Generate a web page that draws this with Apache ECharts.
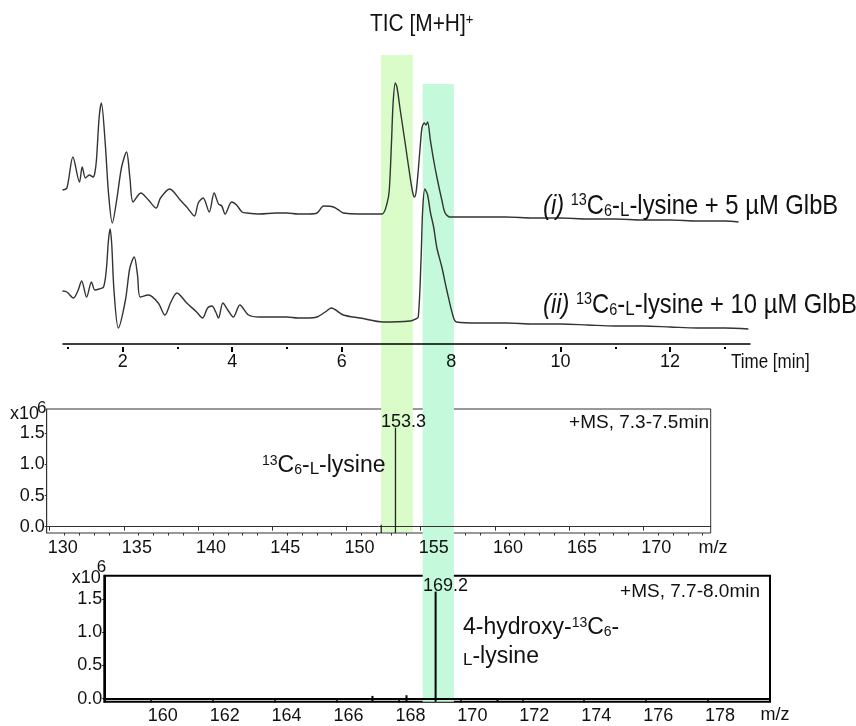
<!DOCTYPE html>
<html><head><meta charset="utf-8">
<script src="https://cdn.jsdelivr.net/npm/echarts@6/dist/echarts.min.js"></script>
<style>html,body{margin:0;padding:0;background:#fff}#c{width:856px;height:726px}</style>
</head><body><div id="c"></div>
<script>
const REG = '"Liberation Sans", Arial, sans-serif';

// TIC trace (i): 13C6-L-lysine + 5 uM GlbB (arbitrary intensity units)
const ticTime1 = [0.90,0.98,1.09,1.21,1.26,1.32,1.39,1.46,1.49,1.52,1.57,1.61,1.68,1.74,1.81,1.89,1.98,2.07,2.13,2.19,2.33,2.47,2.61,2.69,2.86,3.05,3.17,3.31,3.38,3.47,3.58,3.67,3.75,3.81,3.87,3.99,4.08,4.18,4.27,4.50,4.80,5.00,5.20,5.40,5.55,5.67,5.85,5.97,6.03,6.30,6.50,6.74,6.83,6.87,6.91,6.94,6.98,7.01,7.07,7.16,7.25,7.30,7.33,7.36,7.40,7.44,7.47,7.51,7.54,7.57,7.62,7.68,7.75,7.83,7.89,7.98,8.04,8.50,9.00,9.50,10.00,10.50,11.00,11.50,12.00,12.50,13.00,13.25];
const ticInt1  = [154,156,187,162,177,166,169,167,171,184,227,241,201,151,121,144,177,192,167,142,151,144,136,146,155,144,137,128,141,146,132,151,140,138,130,142,139,132,131,130,131,131,130,130,131,138,137,133,131,130,130,130,141,154,201,241,261,257,234,201,167,151,147,152,174,201,217,221,219,222,204,184,164,144,131,127,127,127,127,126,126,125,125,124,124,123,123,122];
// TIC trace (ii): 13C6-L-lysine + 10 uM GlbB
const ticTime2 = [0.90,0.98,1.10,1.18,1.25,1.34,1.43,1.49,1.57,1.65,1.70,1.74,1.77,1.80,1.84,1.92,2.05,2.13,2.21,2.27,2.32,2.47,2.65,2.77,2.88,2.99,3.17,3.35,3.46,3.55,3.63,3.70,3.75,3.83,3.92,4.02,4.14,4.30,4.50,4.80,5.00,5.20,5.40,5.55,5.70,5.81,6.03,6.34,6.76,7.25,7.35,7.40,7.45,7.48,7.52,7.57,7.62,7.68,7.74,7.83,7.92,8.04,8.10,8.50,9.00,9.50,10.00,10.50,11.00,11.50,12.00,12.50,13.00,13.43];
const ticInt2  = [53,52,46,53,63,47,62,54,55,57,74,104,115,99,54,16,44,76,87,69,47,49,41,29,42,51,41,32,26,36,38,32,26,41,34,27,39,29,27,27,27,26,26,27,32,36,29,26,22,23,25,27,84,134,155,149,132,117,96,77,54,27,22,21,21,20,20,19,18,18,17,16,16,15];
const ticMajorTicks = [2,4,6,8,10,12];
const ticMinorTicks = [1,3,5,7,9,11,13];

// Mass spectrum +MS, 7.3-7.5 min (intensity x10^6)
const spec1Mz = [152.34, 153.3];
const spec1Int = [0.03, 1.59];
const spec1PeakLabels = ['', '153.3'];
const spec1Ticks = [130,135,140,145,150,155,160,165,170];
const spec1MinorTicks = [131,132,133,134,136,137,138,139,141,142,143,144,146,147,148,149,151,152,153,154,156,157,158,159,161,162,163,164,166,167,168,169,171,172,173,174];

// Mass spectrum +MS, 7.7-8.0 min (intensity x10^6)
const spec2Mz = [167.16, 168.26, 169.2, 171.2];
const spec2Int = [0.04, 0.05, 1.62, 0.0];
const spec2PeakLabels = ['', '', '169.2', ''];
const spec2Ticks = [160,162,164,166,168,170,172,174,176,178];

const specYTicks = [0, 0.5, 1.0, 1.5];

// highlighted retention-time windows (min) and their top (TIC units)
const bandTimes = [[6.72, 7.30], [7.48, 8.05]];
const bandTopInt = [289, 260];
const bandColors = ['#dafcc9', '#c4fadb'];

const toPairs = (xs, ys) => xs.map((x, i) => [x, ys[i]]);
const chart = echarts.init(document.getElementById('c'));

function specRender(labels, lw, color, dx) {
  return function (params, api) {
    const x = api.value(0), v = api.value(1);
    const p = api.coord([x, v]);
    const cs = params.coordSys;
    const bottom = cs.y + cs.height;
    const children = [{type: 'line', shape: {x1: p[0], y1: bottom, x2: p[0], y2: p[1]}, style: {stroke: color, lineWidth: lw}}];
    const lab = labels[params.dataIndex];
    if (lab) children.push({type: 'text', x: p[0] + dx, y: p[1] + 3, style: {text: lab, font: '18px ' + REG, fill: '#111', align: 'center', verticalAlign: 'bottom'}});
    return {type: 'group', children};
  };
}

const tMin = 0.909, tMax = 13.46;
const noSplit = {show: false};
const option = {
  animation: false,
  grid: [
    {left: 63, top: 64, width: 687, height: 280, show: false},
    {left: 46.7, top: 409, width: 664, height: 124, show: true, borderColor: '#333', borderWidth: 1, backgroundColor: 'transparent'},
    {left: 104.3, top: 575.7, width: 665.7, height: 126, show: true, borderColor: '#000', borderWidth: 2, backgroundColor: 'transparent'}
  ],
  xAxis: [
    {type: 'value', gridIndex: 0, min: tMin, max: tMax, z: 3, splitLine: noSplit,
     axisLine: {lineStyle: {color: '#000', width: 1.5}}, axisTick: {show: false},
     axisLabel: {customValues: ticMajorTicks, margin: 9, fontSize: 18, fontFamily: REG, color: '#111'}},
    {type: 'value', gridIndex: 0, min: tMin, max: tMax, position: 'bottom', offset: 3, splitLine: noSplit,
     axisLine: {show: false}, axisLabel: {show: false},
     axisTick: {customValues: ticMajorTicks, length: 5, lineStyle: {color: '#000', width: 2}}},
    {type: 'value', gridIndex: 0, min: tMin, max: tMax, position: 'bottom', offset: 3, splitLine: noSplit,
     axisLine: {show: false}, axisLabel: {show: false},
     axisTick: {customValues: ticMinorTicks, length: 2, lineStyle: {color: '#000', width: 2}}},
    {type: 'value', gridIndex: 1, min: 129.8, max: 174.54, z: 3, splitLine: noSplit,
     axisLine: {lineStyle: {color: '#333', width: 1}},
     axisTick: {customValues: spec1Ticks, length: 4, lineStyle: {color: '#333'}},
     axisLabel: {customValues: spec1Ticks, margin: 6, fontSize: 18, fontFamily: REG, color: '#111', padding: [0, 0, 0, 26]}},
    {type: 'value', gridIndex: 1, min: 129.8, max: 174.54, position: 'bottom', splitLine: noSplit,
     axisLine: {show: false}, axisLabel: {show: false},
     axisTick: {customValues: spec1MinorTicks, length: 2.5, lineStyle: {color: '#333'}}},
    {type: 'value', gridIndex: 2, min: 158.5, max: 180, z: 3, splitLine: noSplit,
     axisLine: {lineStyle: {color: '#000', width: 2}},
     axisTick: {customValues: spec2Ticks, length: 4, lineStyle: {color: '#000', width: 1.5}},
     axisLabel: {customValues: spec2Ticks, margin: 5, fontSize: 18, fontFamily: REG, color: '#111', padding: [0, 0, 0, 24]}}
  ],
  yAxis: [
    {type: 'value', gridIndex: 0, min: 0, max: 280, show: false},
    {type: 'value', gridIndex: 1, min: -0.101, max: 1.889, splitLine: noSplit,
     axisLine: {show: true, lineStyle: {color: '#333'}},
     axisTick: {show: true, customValues: specYTicks, length: 2, lineStyle: {color: '#333'}},
     axisLabel: {customValues: specYTicks, formatter: v => v.toFixed(1), margin: 2, fontSize: 18, fontFamily: REG, color: '#111'}},
    {type: 'value', gridIndex: 2, min: -0.048, max: 1.861, splitLine: noSplit,
     axisLine: {show: true, lineStyle: {color: '#000', width: 2}},
     axisTick: {show: true, customValues: specYTicks, length: 2, lineStyle: {color: '#000'}},
     axisLabel: {customValues: specYTicks, formatter: v => v.toFixed(1), margin: 2, fontSize: 18, fontFamily: REG, color: '#111'}}
  ],
  series: [
    {type: 'line', xAxisIndex: 0, yAxisIndex: 0, data: toPairs(ticTime1, ticInt1), showSymbol: false, smooth: 0.3, lineStyle: {color: '#333', width: 1.4}, z: 2},
    {type: 'line', xAxisIndex: 0, yAxisIndex: 0, data: toPairs(ticTime2, ticInt2), showSymbol: false, smooth: 0.3, lineStyle: {color: '#333', width: 1.4}, z: 2},
    {type: 'custom', xAxisIndex: 3, yAxisIndex: 1, data: toPairs(spec1Mz, spec1Int), renderItem: specRender(spec1PeakLabels, 1.3, '#222', 8), z: 4},
    {type: 'custom', xAxisIndex: 5, yAxisIndex: 2, data: toPairs(spec2Mz, spec2Int), renderItem: specRender(spec2PeakLabels, 2, '#000', 10), z: 4}
  ]
};
chart.setOption(option);

// decorations: highlight bands computed through the axes, and annotations
const bandBottoms = [
  chart.convertToPixel({yAxisIndex: 1}, -0.101) - 1,
  chart.convertToPixel({yAxisIndex: 2}, -0.048)
];
const graphics = bandTimes.map((b, i) => {
  const x1 = chart.convertToPixel({xAxisIndex: 0}, b[0]);
  const x2 = chart.convertToPixel({xAxisIndex: 0}, b[1]);
  const y1 = chart.convertToPixel({yAxisIndex: 0}, bandTopInt[i]);
  return {type: 'rect', z: 1, shape: {x: x1, y: y1, width: x2 - x1, height: bandBottoms[i] - y1}, style: {fill: bandColors[i]}};
});
const supN = {fontSize: 17, fontFamily: REG, verticalAlign: 'top', lineHeight: 14};
const subN = {fontSize: 17, fontFamily: REG, verticalAlign: 'bottom', lineHeight: 12};
const scN = {fontSize: 20, fontFamily: REG, verticalAlign: 'bottom'};
const itN = {fontSize: 28, fontFamily: REG, fontStyle: 'italic'};
const supR = {fontSize: 14, fontFamily: REG, verticalAlign: 'top', lineHeight: 12};
const subR = {fontSize: 14, fontFamily: REG, verticalAlign: 'bottom', lineHeight: 10};
const scR = {fontSize: 17, fontFamily: REG, verticalAlign: 'bottom'};
function txt(x, y, text, size, align, rich, sx) {
  return {type: 'text', z: 5, x, y, scaleX: sx || 1,
    style: {text, fontSize: size, fontFamily: REG, fill: '#111', align: align || 'left', verticalAlign: 'middle', rich: rich || {}}};
}
graphics.push(
  txt(370, 24, 'TIC [M+H]{s|+}', 24, 'left', {s: {fontSize: 15, fontFamily: REG, verticalAlign: 'top'}}, 0.87),
  txt(543, 206, '{it|(i)} {sup|13}C{sub|6}-{sc|L}-lysine + 5 µM GlbB', 28, 'left', {it: itN, sup: supN, sub: subN, sc: scN}, 0.85),
  txt(543, 305, '{it|(ii)} {sup|13}C{sub|6}-{sc|L}-lysine + 10 µM GlbB', 28, 'left', {it: itN, sup: supN, sub: subN, sc: scN}, 0.85),
  txt(731, 362, 'Time [min]', 20, 'left', null, 0.85),
  txt(10, 414, 'x10', 18), txt(37, 408, '6', 17),
  txt(71.7, 578, 'x10', 18), txt(96.7, 567.5, '6', 17),
  txt(709, 423, '+MS, 7.3-7.5min', 19, 'right'),
  txt(760, 592, '+MS, 7.7-8.0min', 19, 'right'),
  txt(262, 466, '{sup|13}C{sub|6}-{sc|L}-lysine', 23, 'left', {sup: supR, sub: subR, sc: scR}),
  txt(463, 628, '4-hydroxy-{sup|13}C{sub|6}-', 23, 'left', {sup: supR, sub: subR}),
  txt(463, 657, '{sc|L}-lysine', 23, 'left', {sc: scR}),
  txt(713, 548, 'm/z', 18, 'center'),
  txt(775, 715, 'm/z', 18, 'center')
);
chart.setOption({graphic: graphics});
</script></body></html>
